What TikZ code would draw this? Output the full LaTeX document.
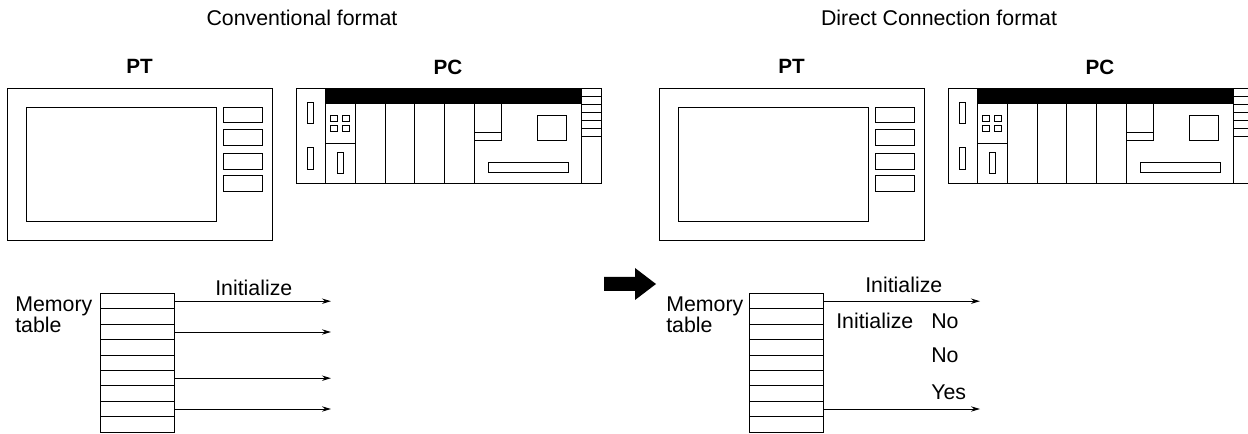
\documentclass[tikz,border=0pt]{standalone}
\usepackage{fontspec}
\setmainfont{Liberation Sans}
\usetikzlibrary{arrows.meta,calc}
\tikzset{
  unit/.style={line width=0.75pt},
  tabrow/.style={draw,line width=0.75pt,minimum width=55.5pt,minimum height=11.55pt,inner sep=0pt,outer sep=0pt},
  flow/.style={-{Stealth[length=6.75pt,width=4pt]},line width=0.75pt},
  lab/.style={font=\fontsize{16pt}{18pt}\selectfont,inner sep=0pt,anchor=base west},
  head/.style={font=\bfseries\fontsize{15.5pt}{18pt}\selectfont,inner sep=0pt}
}
\begin{document}
\begin{tikzpicture}[x=0.75pt,y=-0.75pt]
  \useasboundingbox (0,0) rectangle (1248,434);
  \clip (0,0) rectangle (1248,434);
  % the two top rows: PT and PC
  \foreach \dx/\nm/\title/\cx in {0/A/{Conventional format}/302,652/B/{Direct Connection format}/287} {
    \begin{scope}[xshift=\dx*0.75pt,unit]
      \node[lab,anchor=base] (title\nm) at (\cx,26) {\title};
      \node[head] (pt\nm) at (139.5,66) {PT};
      \node[head] (pc\nm) at (448,67) {PC};
      % PT panel
      \draw (7,89) rectangle (272,240.5);
      \draw (26,108) rectangle (216,221.5);
      \foreach \ya/\yb in {108/123,130/146,154/169.5,176/192}
        \draw (223,\ya) rectangle (262,\yb);
      % PC rack
      \draw (296,89) rectangle (601,184);
      \fill (325,89) rectangle (581,104);
      \draw (325,89) -- (325,184);
      \draw (581,89) -- (581,184);
      \foreach \x in {355,385,414,444,474}
        \draw (\x,104) -- (\x,184);
      \foreach \ya/\yb in {103/124,148/170}
        \draw (307,\ya) rectangle (313,\yb);
      \foreach \x in {330,342}
        \foreach \y in {116,126}
          \draw (\x,\y) rectangle ++(7.5,6);
      \draw (325,144) -- (355,144);
      \draw (337,153) rectangle (343,174);
      \draw (474,133) -- (501.5,133);
      \draw (501.5,104) -- (501.5,141) -- (474,141);
      \draw (537,116) rectangle (566,141);
      \draw (488,163) rectangle (568,173);
      \foreach \y in {97,105,113,121,129,137}
        \draw (581,\y) -- (601,\y);
    \end{scope}
  }
  % memory tables
  \foreach \dx/\nm in {0/A,649/B} {
    \begin{scope}[xshift=\dx*0.75pt]
      \foreach \i in {1,...,9}
        \node[tabrow] (row\nm\i) at (137,{293.5+15.4*\i-7.7}) {};
      \coordinate (end\nm) at (331,0);
    \end{scope}
  }
  \foreach \nm/\x in {A/15,B/666} {
    \node[lab] (mem\nm) at (\x,312) {Memory};
    \node[lab] (tab\nm) at (\x,333) {table};
  }
  \foreach \i in {1,3,6,8}
    \draw[flow] (rowA\i.east) -- (rowA\i.east -| endA);
  \foreach \i in {1,8}
    \draw[flow] (rowB\i.east) -- (rowB\i.east -| endB);
  \node[lab] (initA) at (215,296) {Initialize};
  \node[lab] (initB) at (865,293) {Initialize};
  \node[lab] (initC) at (836,329) {Initialize};
  \foreach \y/\nm/\lab in {329/a/No,362/b/No,399/c/Yes}
    \node[lab] (ans\nm) at (931,\y) {\lab};
  % big arrow between the formats
  \fill (604,277) -- (635,277) -- (635,268) -- (656,284) -- (635,300) -- (635,291) -- (604,291) -- cycle;
\end{tikzpicture}
\end{document}
